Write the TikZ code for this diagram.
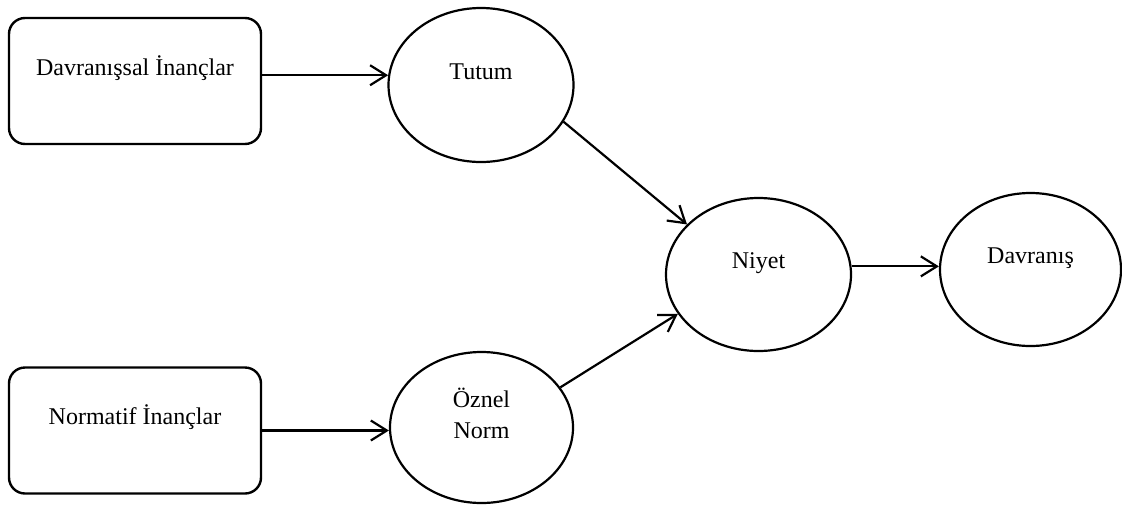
\documentclass[tikz,border=0pt]{standalone}
\usepackage{fontspec}
\setmainfont{Liberation Serif}
\usepackage{tikz}
\usetikzlibrary{arrows.meta,positioning,shapes.geometric}

\begin{document}
\begin{tikzpicture}[
    x=0.5pt, y=-0.5pt,
    font=\fontsize{12}{14.5}\selectfont,
    box/.style={draw, rounded corners=8pt, minimum width=126pt, minimum height=63pt, align=center, line width=1.2pt, text height=8pt, text depth=14pt},
    oval/.style={draw, ellipse, minimum width=92.5pt, minimum height=77pt, inner sep=0pt, align=center, line width=1.1pt, text height=8pt, text depth=14pt},
    arrow/.style={-{Straight Barb[length=8pt, width=10pt]}, line width=1.1pt}
]
\useasboundingbox (0,0) rectangle (1122,504);
\node[box] (davinanc) at (135,81) {Davranışsal İnançlar};
\node[box] (norminanc) at (135,430.5) {Normatif İnançlar};
\node[oval] (tutum) at (481,85) {Tutum};
\node[oval, minimum width=91.5pt, minimum height=75.5pt, text height=18.5pt, text depth=8pt] (oznel) at (481.5,427.5) {Öznel\\[1pt]Norm};
\node[oval, minimum height=76.5pt] (niyet) at (758.5,274.5) {Niyet};
\node[oval, minimum width=90.5pt, minimum height=76.5pt] (davranis) at (1030.5,269.5) {Davranış};
\draw[arrow] (davinanc.east |- tutum.174) -- (tutum.174);
\draw[arrow] (norminanc) -- (norminanc -| oznel.west);
\draw[arrow] (tutum.-24) -- (niyet.145);
\draw[arrow] (oznel.27) -- (niyet.206);
\draw[arrow] (niyet.5) -- (niyet.5 -| davranis.west);
\end{tikzpicture}
\end{document}
